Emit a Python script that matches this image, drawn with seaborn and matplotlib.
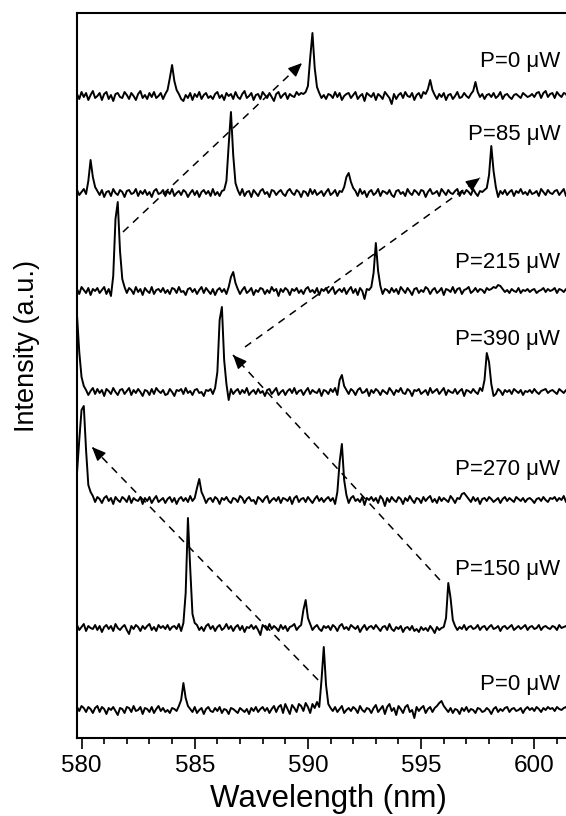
import numpy as np
import pandas as pd
import matplotlib
matplotlib.use("Agg")
import matplotlib.pyplot as plt
from matplotlib.ticker import MultipleLocator
import seaborn as sns

# ---------------- data ----------------
WL_START = 579.8   # nm, first sample
WL_STEP = 0.1      # nm, sample spacing

# traces listed from top to bottom
powers = ["0", "85", "215", "390", "270", "150", "0"]
offsets = [642, 545, 447, 346, 238, 110, 28]

# intensities relative to each trace's baseline (a.u.), rows of 1 nm
p0_top = [2, -3, 4, -1, 3, -4, 1, 5, -2, 0,
          3, -4, 2, 4, -3, 1, -5, 2, 3, -1,
          -2, 4, 1, -3, 3, 0, -4, 2, 5, -2,
          1, -3, 3, -1, 4, -2, 0, 3, -3, 2,
          6, 18, 31, 15, 6, 2, -3, -5, 1, -2,
          3, -4, 2, -1, 4, -3, 1, 3, -2, 0,
          -3, 2, 4, -2, 1, -4, 3, 0, 2, -3,
          4, -1, -3, 2, 5, -2, 0, 3, -4, 1,
          2, -3, 4, 1, -2, 3, -1, -5, 2, 4,
          -2, 1, 3, -3, 2, 0, -1, 4, 1, 3,
          2, 4, 10, 38, 63, 28, 9, 3, -2, 1,
          -3, 2, 1, -2, 4, -1, 3, -4, 0, 2,
          3, -2, 1, 4, -3, 0, 2, -5, 3, 1,
          -1, 3, -4, 2, 0, -3, 4, 1, -2, -8,
          2, -3, 1, 3, -2, 4, 0, -1, 3, -4,
          1, 3, -2, 4, 2, 7, 16, 6, 1, -3,
          2, -1, 3, -4, 1, 2, -3, 0, 4, -2,
          -1, 3, 0, -2, 2, 5, 14, 4, -1, 2,
          -3, 1, 2, -1, 3, -2, 0, 4, -3, 1,
          2, -1, -3, 1, 2, 0, -2, 3, 1, -1,
          0, 2, -1, 3, 4, -2, 3, 5, -1, 2,
          3, -2, 4, 1, -1, 3, 2, -3, 1, 2]

p85 = [3, -2, 1, 4, -1, 12, 33, 16, 6, 2,
       -2, 3, -4, 1, 2, -3, 4, 0, -2, 3,
       1, -4, 2, 3, -1, 0, 4, -3, 2, -1,
       3, -2, 1, -4, 2, 4, -1, 0, 3, -3,
       2, -1, 4, -3, 0, 2, -2, 3, 1, -4,
       0, 3, -2, 2, -4, 1, 3, -1, 2, -3,
       4, -2, 1, -3, 2, 3, 12, 48, 81, 38,
       10, 3, -2, 4, -3, 1, 2, -4, 3, 0,
       -3, 2, 4, -1, 1, -4, 3, 2, -2, 1,
       3, -1, -3, 2, 4, 0, -2, 3, 1, -4,
       2, 1, -3, 4, -1, 3, -2, 0, 2, -3,
       1, 4, -2, 0, 3, -3, 2, 1, 6, 16,
       20, 11, 5, 2, -3, 4, -1, 2, -4, 1,
       3, -2, 0, 4, -3, 2, 1, -1, 3, -2,
       -4, 2, 3, -1, 1, -3, 4, 0, -2, 3,
       1, -2, 3, 2, -4, 1, 4, -1, 0, 2,
       -3, 4, 1, -2, 3, 0, -1, 2, 4, -3,
       2, -1, 3, 1, -2, 4, 0, -3, 2, 1,
       3, 5, 18, 47, 22, 6, -4, 2, -1, 3,
       -2, 1, 3, -3, 2, 0, 4, -1, 1, -2,
       3, -1, 0, 2, -3, 4, 1, -2, 3, 0,
       -1, 2, 3, -2, 1, 4, -3, 2, 0, 1]

p215 = [2, -3, 4, 1, -2, 3, -4, 2, 0, 3,
        -2, 1, 4, -3, 2, -5, 15, 72, 89, 40,
        12, 4, -2, 3, 1, -3, 4, -1, 2, -4,
        3, 0, -2, 4, -3, 1, 2, -1, 3, -2,
        1, -3, 3, 2, -2, 4, -1, 0, -4, 2,
        3, -1, 2, -3, 1, 4, -2, 3, 0, -3,
        2, -4, 1, 3, -1, 2, -3, 4, 14, 19,
        8, 2, -3, 1, 4, -2, 0, 3, -4, 1,
        -1, 3, 2, -3, 1, -2, 4, 0, 2, -5,
        2, -1, 3, 1, -4, 2, 0, 3, -2, 1,
        -3, 2, 4, -1, 1, -2, 3, -4, 2, 0,
        3, -2, 1, 4, -3, 0, 2, -1, 3, -3,
        1, 4, -2, 2, -4, 3, 0, -8, 2, 1,
        4, 18, 48, 20, 5, -3, 2, 1, -2, 3,
        -1, 2, -3, 4, 1, -2, 3, 0, -4, 2,
        3, -2, 1, -1, 4, 2, -3, 1, 3, -2,
        0, 3, -4, 2, 1, -1, 4, -2, 2, 3,
        -3, 1, 2, 4, -2, 0, 3, -1, 2, 1,
        -2, 3, 1, 2, 4, 3, 6, 5, 2, -1,
        1, -2, 2, 0, -1, 3, -2, 1, 0, 2,
        -1, 1, 2, -2, 0, 1, 3, -1, 2, 0,
        1, 3, -2, 2, 1, -1, 2, 0, 3, 1]

p390 = [77, 40, 15, 6, 2, -3, 1, 4, -2, 3,
        -1, 2, -4, 3, 1, -2, 4, 0, -3, 2,
        3, -2, 1, 4, -3, 2, -1, 3, 0, -4,
        2, 1, -3, 3, -2, 4, 1, -1, 2, -3,
        -2, 3, 0, -4, 2, 1, 3, -2, 4, -1,
        1, -3, 2, 3, -1, 0, -4, 2, 1, 3,
        -2, 4, 20, 72, 85, 32, 8, -8, 3, -2,
        1, 3, -2, 2, -1, 4, -3, 0, 2, -2,
        3, -1, 1, -4, 2, 3, -2, 1, 4, -3,
        0, 2, -3, 1, 3, -1, 4, -2, 1, 2,
        -3, 1, 4, -2, 2, 0, -1, 3, -4, 2,
        1, -2, 3, 0, 4, -3, 12, 17, 6, 2,
        -2, 3, 1, -3, 2, 4, -1, 0, 3, -4,
        2, -1, 3, 1, -3, 2, 0, -2, 4, 1,
        -3, 2, 0, 4, -1, -2, 3, 1, -4, 2,
        1, 3, -2, 0, 2, -3, 4, -1, 1, 3,
        -2, 1, 4, -3, 2, 0, -1, 3, -2, 1,
        3, -4, 2, 1, -1, 3, 0, -2, 4, 1,
        12, 39, 30, 8, -4, -2, 3, 1, -3, 2,
        0, 2, -2, 3, 1, -1, 2, -3, 1, 0,
        2, -1, 3, 0, -2, 1, 2, 3, -1, 1,
        2, 0, -2, 3, 1, -1, 2, 1, 0, 2]

p270 = [27, 60, 90, 94, 50, 15, 8, 4, -2, 3,
        1, -3, 2, 4, -1, 2, -4, 3, 0, -2,
        3, 1, -2, 4, -3, 2, 0, -1, 3, -4,
        2, -1, 3, -3, 1, 4, -2, 0, 2, -3,
        1, 3, -2, 2, -4, 1, 3, -1, 2, -2,
        4, -1, 2, 12, 21, 8, 3, -3, 1, 2,
        -2, 3, 1, -4, 2, 0, 3, -1, -3, 2,
        1, -2, 4, 2, -3, 1, 3, -1, 0, -4,
        3, 1, -2, 2, 4, -3, 0, 2, -1, 3,
        -3, 2, 1, -1, 3, -4, 2, 4, -2, 1,
        2, -2, 3, 0, -3, 1, 4, -1, 2, -2,
        1, 3, -1, 2, -4, 8, 38, 56, 20, 5,
        -3, 2, 4, -1, 1, -2, 3, -5, 2, 0,
        3, -1, 2, -3, 4, 1, -6, 2, -2, 3,
        0, -2, 3, 1, -4, 2, -1, 4, 0, -3,
        2, 1, -3, 3, -1, 2, 4, -2, 1, -3,
        3, -1, 2, 0, -2, 4, 1, -3, 2, 1,
        6, 7, 4, 1, -2, 3, -1, 2, -4, 1,
        2, -1, 3, 1, -2, 0, 2, -3, 1, 3,
        -1, 2, 0, -2, 3, 1, -1, 2, -2, 1,
        2, 0, -3, 1, 2, -1, 3, 0, -2, 2,
        1, 3, -1, 2, 0, 4, -2, 1, 3, 2]

p150 = [3, -2, 1, 4, -3, 2, 0, -1, 3, -2,
        2, -4, 1, 3, -1, 2, -3, 4, 0, -2,
        1, 3, -2, -6, 2, -1, 3, 1, -3, 2,
        -1, 2, 4, -2, 1, -3, 3, 0, 2, -1,
        3, -2, 1, 2, -1, 4, -3, 5, 35, 110,
        60, 14, 5, 3, -2, 1, -3, 2, 4, -1,
        2, -3, 1, 3, -2, 0, 4, -1, 2, -3,
        1, 3, -2, 2, -4, 1, 0, 3, -1, 2,
        -2, -7, 3, 1, -2, 4, -1, 2, 0, -3,
        3, -1, 2, -3, 1, 2, 4, -2, 1, 3,
        18, 28, 10, 4, -2, 1, 3, -1, -3, 2,
        0, 2, -2, 3, 1, -3, 2, 4, -1, 1,
        -2, 3, 1, -1, 2, -4, 0, 3, -2, 1,
        2, -1, 3, 0, -3, 1, 2, -2, 4, -1,
        -3, 1, -1, 2, -4, 0, 1, -2, 2, -3,
        -1, -4, 1, -2, 0, -3, 2, -1, -5, 1,
        -2, 0, 1, 10, 45, 30, 8, 2, -2, 1,
        -1, 3, -2, 1, 2, -1, 0, 3, -2, 1,
        2, -2, 1, 3, -1, 0, 2, -3, 1, 2,
        -1, 1, 3, -2, 0, 2, -1, 1, 3, -2,
        1, 2, -1, 0, 3, -2, 1, 2, 0, -1,
        2, 1, -2, 3, 0, 1, 2, -1, 2, 1]

p0_bottom = [3, -1, 4, 2, -2, 3, 1, -3, 2, 4,
             -2, 3, 1, -4, 2, 0, 3, -1, -5, 2,
             1, -3, 3, 2, -2, 4, -1, 0, 3, -4,
             2, 1, -2, 3, -3, 1, 4, -1, 2, -2,
             0, -3, 2, 1, -1, 4, 10, 27, 12, 4,
             1, -2, 3, -3, 0, 2, -4, 1, 3, -1,
             -2, 2, -1, 3, -3, 1, 0, -4, 2, 1,
             -1, -3, 2, 0, -2, 1, -4, 2, -1, 3,
             -2, 1, 3, -1, 2, -3, 1, 4, -2, 3,
             5, -3, 6, 1, -4, 5, 2, -2, 6, 4,
             -1, 7, 3, -3, 6, 2, 8, 3, 30, 63,
             25, 6, 2, -1, 3, -2, 1, 4, -3, 0,
             2, -1, 3, 1, -3, 4, 0, -2, 2, 1,
             -3, 2, 5, -2, 1, 4, -4, 3, 6, -1,
             2, -5, 4, 1, -3, 3, 5, -2, 0, -8,
             3, -1, 2, 4, -3, 1, 3, -2, 2, 4,
             7, 9, 4, 1, -2, 2, -3, 1, 0, -4,
             2, -1, 3, -2, 1, 0, -3, 2, 1, -2,
             -1, 2, 0, -4, 1, 3, -2, 1, -1, 2,
             3, -2, 1, 2, -1, 0, 2, -3, 1, 3,
             0, 2, -1, 3, 1, -2, 2, 0, 3, 1,
             2, -1, 3, 1, 0, 2, 3, -1, 2, 1]

traces = [p0_top, p85, p215, p390, p270, p150, p0_bottom]

# label heights (baseline of text, a.u.)
label_y = [671, 598, 470, 393, 263, 163, 48]

# dashed arrows: (wavelength, intensity) of tail and head
arrow_tail_wl = [581.83, 587.22, 595.83, 590.45]
arrow_tail_y = [506, 391, 158, 58]
arrow_head_wl = [589.74, 597.60, 586.69, 580.46]
arrow_head_y = [675, 560, 383, 291]

# ---------------- build table ----------------
rows = []
for k, (vals, off) in enumerate(zip(traces, offsets)):
    wl = WL_START + WL_STEP * np.arange(len(vals))
    for w, v in zip(wl, vals):
        rows.append({"trace": k, "wavelength": w, "intensity": v + off})
df = pd.DataFrame(rows)

# ---------------- plot ----------------
sns.set_style("ticks")
plt.rcParams["font.family"] = ["Liberation Sans", "DejaVu Sans"]
plt.rcParams["text.color"] = "black"
plt.rcParams["axes.labelcolor"] = "black"
plt.rcParams["xtick.color"] = "black"
plt.rcParams["ytick.color"] = "black"

fig = plt.figure(figsize=(5.66, 8.16), dpi=100)
ax = fig.add_axes([77 / 566, 78 / 816, 502.6 / 566, 725 / 816])

sns.lineplot(data=df, x="wavelength", y="intensity", units="trace",
             estimator=None, sort=False, color="black", lw=1.4, ax=ax)

for p, ly in zip(powers, label_y):
    ax.text(601.15, ly, f"P={p} \u03bcW", ha="right", va="baseline",
            fontsize=16, color="black")

for tx, ty, hx, hy in zip(arrow_tail_wl, arrow_tail_y, arrow_head_wl, arrow_head_y):
    ax.plot([tx, hx], [ty, hy], color="black", lw=1.1, ls=(0, (5, 4)))
    bx = hx - 0.03 * (hx - tx)
    by = hy - 0.03 * (hy - ty)
    ax.annotate("", xy=(hx, hy), xytext=(bx, by),
                arrowprops=dict(arrowstyle="-|>,head_length=0.7,head_width=0.3",
                                color="black", lw=1.0, mutation_scale=12,
                                shrinkA=0, shrinkB=0))

ax.set_xlim(579.8, 602.0)
ax.set_ylim(0, 725)
ax.set_yticks([])
ax.xaxis.set_major_locator(MultipleLocator(5))
ax.xaxis.set_minor_locator(MultipleLocator(1))
ax.tick_params(axis="x", which="major", direction="out", length=8, width=1.2,
               labelsize=17.5, pad=4, top=False, colors="black")
ax.tick_params(axis="x", which="minor", direction="out", length=4.5, width=1.2,
               top=False, colors="black")
for s in ["left", "top", "bottom"]:
    ax.spines[s].set_linewidth(1.5)
    ax.spines[s].set_color("black")
ax.spines["right"].set_visible(False)

ax.set_xlabel("Wavelength (nm)", fontsize=22.5, labelpad=5)
ax.set_ylabel("Intensity (a.u.)", fontsize=19.5)
ax.yaxis.set_label_coords(-0.073, 0.54)

fig.savefig("out.png", dpi=100)
